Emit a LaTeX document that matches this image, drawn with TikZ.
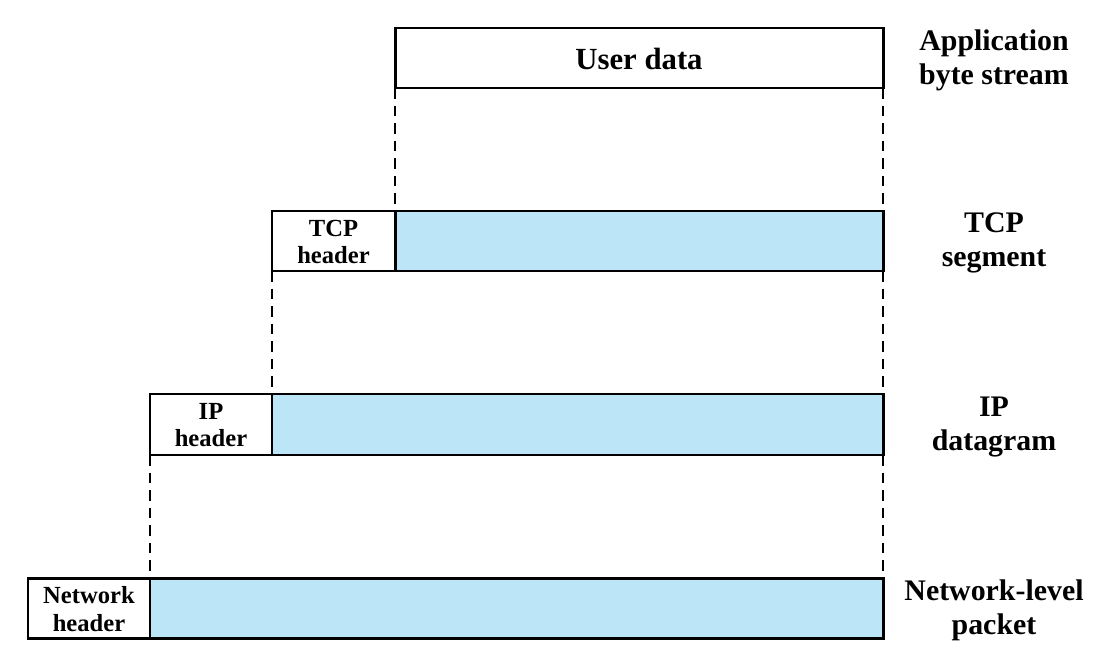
\documentclass[tikz,border=0pt]{standalone}
\usepackage{fontspec}
\setmainfont{Liberation Serif}
\definecolor{payload}{HTML}{BDE5F8}
\begin{document}
\begin{tikzpicture}[x=0.02cm,y=-0.02cm,
  box/.style={draw=black,line width=1.7pt},
  hdr/.style={font=\bfseries\fontsize{14}{15.5}\selectfont,align=center},
  lbl/.style={font=\bfseries\fontsize{17}{19.5}\selectfont,align=center},
  dline/.style={dashed,line width=0.6pt,dash pattern=on 6pt off 4pt}]
\useasboundingbox (0,0) rectangle (1111,652);
% rows
\draw[box] (395,28) rectangle (883,88);
\node[font=\bfseries\fontsize{17.5}{19.5}\selectfont] (ud) at (639,59) {User data};
\draw[box,fill=payload] (395,211) rectangle (883,271);
\draw[box,fill=white] (272,211) rectangle (395,271);
\node[hdr] (tcph) at (333.5,242) {TCP\\header};
\draw[box,fill=payload] (272,394) rectangle (883,455);
\draw[box,fill=white] (150,394) rectangle (272,455);
\node[hdr] (iph) at (211,425) {IP\\header};
\draw[box,fill=payload] (150,578) rectangle (883,638);
\draw[box,fill=white] (28,578) rectangle (150,638);
\node[hdr,font=\bfseries\fontsize{14}{16}\selectfont] (neth) at (89,609) {Network\\header};
% dashed guides
\coordinate (a1) at (395,88); \coordinate (a2) at (395,211);
\coordinate (b1) at (883,88); \coordinate (b2) at (883,211);
\coordinate (c1) at (272,271); \coordinate (c2) at (272,394);
\coordinate (d1) at (883,271); \coordinate (d2) at (883,394);
\coordinate (e1) at (150,455); \coordinate (e2) at (150,578);
\coordinate (f1) at (883,455); \coordinate (f2) at (883,578);
\draw[dline] (a1) -- (a2);
\draw[dline] (b1) -- (b2);
\draw[dline] (c1) -- (c2);
\draw[dline] (d1) -- (d2);
\draw[dline] (e1) -- (e2);
\draw[dline] (f1) -- (f2);
% right labels
\node[lbl] (l1) at (994,60) {Application\\byte stream};
\node[lbl] (l2) at (994,243) {TCP\\segment};
\node[lbl] (l3) at (994,427) {IP\\datagram};
\node[lbl] (l4) at (994,610) {Network-level\\packet};
\end{tikzpicture}
\end{document}
